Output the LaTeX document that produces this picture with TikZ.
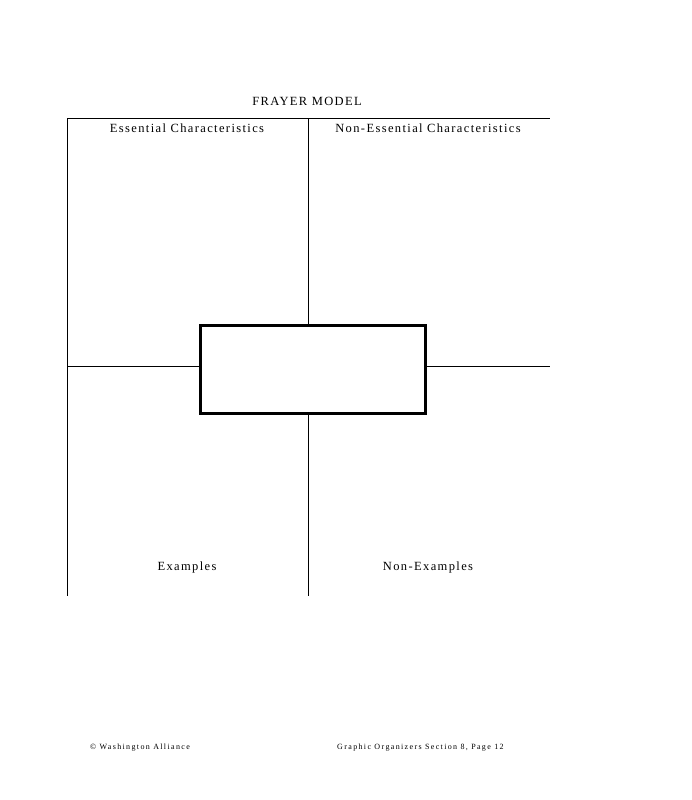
\documentclass[tikz,border=0pt]{standalone}
\usepackage{fontspec}
\setmainfont{Liberation Serif}
\usetikzlibrary{positioning}
\tikzstyle{quadlabel}=[font=\fontsize{12.5}{14}\selectfont\addfontfeatures{LetterSpace=11}, inner sep=0pt]
\tikzstyle{footer}=[font=\fontsize{8}{10}\selectfont\addfontfeatures{LetterSpace=17}, inner sep=0pt]
\tikzstyle{wordbox}=[draw, line width=3pt, minimum width=225, minimum height=88]
\tikzstyle{grid line}=[line width=1pt]

\begin{document}
\begin{tikzpicture}[x=1pt, y=-1pt]
\useasboundingbox (0,0) rectangle (691,800);

\node[quadlabel] (title) at (307,101) {FRAYER MODEL};

\coordinate (topleft) at (67,118);
\coordinate (topright) at (550,118);
\coordinate (topmid) at (308,118);
\coordinate (botleft) at (67,596);
\coordinate (botmid) at (308,596);
\coordinate (midleft) at (67,366);
\coordinate (midright) at (550,366);

\node[wordbox] (word) at (313,369.5) {};

\draw[grid line] (topleft) -- (topright);
\draw[grid line] (topleft) -- (botleft);
\draw[grid line] (topmid) -- (topmid |- word.north);
\draw[grid line] (botmid |- word.south) -- (botmid);
\draw[grid line] (midleft) -- (midleft -| word.west);
\draw[grid line] (midright -| word.east) -- (midright);

\node[quadlabel] (essential) at (187,128) {Essential Characteristics};
\node[quadlabel] (nonessential) at (428,128) {Non-Essential Characteristics};
\node[quadlabel] (examples) at (187,567.5) {Examples};
\node[quadlabel] (nonexamples) at (428,567.5) {Non-Examples};

\node[footer, anchor=west] (alliance) at (90,748) {© Washington Alliance};
\node[footer, anchor=west] (page) at (337,748) {Graphic Organizers Section 8, Page 12};
\end{tikzpicture}
\end{document}
